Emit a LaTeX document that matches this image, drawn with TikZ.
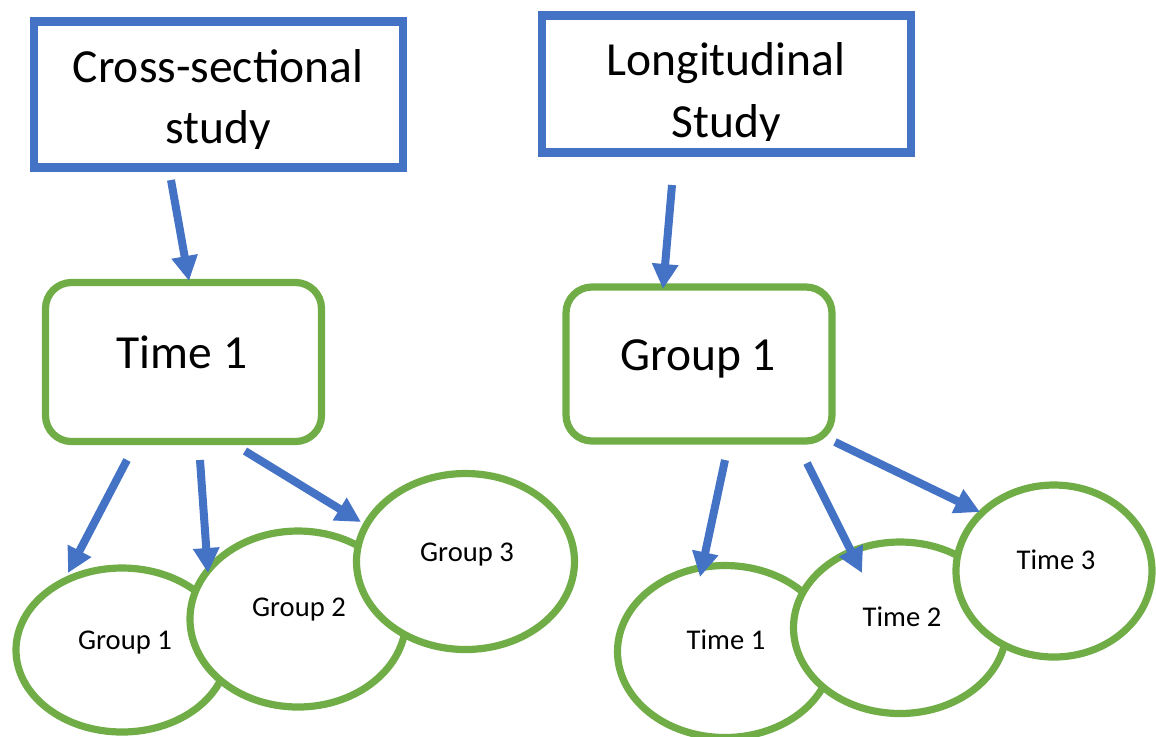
\documentclass[tikz,border=0pt]{standalone}
\usepackage{fontspec}
\setmainfont{Carlito}
\usetikzlibrary{arrows.meta,shapes.geometric}
\definecolor{studyblue}{HTML}{4472C4}
\definecolor{stagegreen}{HTML}{70AD47}
\begin{document}
\begin{tikzpicture}[x=0.5pt,y=-0.5pt,
  studybox/.style={draw=studyblue,line width=4.25pt,minimum width=184.5pt,outer sep=0pt,inner sep=0pt},
  stagebox/.style={draw=stagegreen,line width=3.6pt,rounded corners=13pt,outer sep=0pt,inner sep=0pt},
  wave/.style={ellipse,draw=stagegreen,line width=3.6pt,fill=white,outer sep=0pt,inner sep=0pt},
  bigtext/.style={font=\fontsize{23.75}{30}\selectfont,anchor=base,inner sep=0pt},
  smalltext/.style={font=\fontsize{14.3}{17}\selectfont,anchor=base,inner sep=0pt},
  link/.style={draw=studyblue,line width=4pt,-{Triangle[length=12.5pt,width=12.5pt]}},
]
\clip (0,0) rectangle (1156,736);

% study boxes
\node[studybox,minimum height=73pt] (cs) at (218.5,94.5) {};
\node[studybox,minimum height=68.5pt] (lg) at (726.5,84) {};
\begin{scope}
  \clip ([shift={(4,4)}]cs.north west) rectangle ([shift={(-4,-19.5)}]cs.south east);
  \node[bigtext] (cstxt) at ([shift={(-0.5,-12.5)}]cs.center) {Cross-sectional};
  \node[bigtext] (cstxtb) at ([shift={(-0.5,48.5)}]cs.center) {study};
\end{scope}
\begin{scope}
  \clip ([shift={(4,4)}]lg.north west) rectangle ([shift={(-4,-12.5)}]lg.south east);
  \node[bigtext] (lgtxt) at ([shift={(-0.5,-9)}]lg.center) {Longitudinal};
  \node[bigtext] (lgtxtb) at ([shift={(-0.5,53)}]lg.center) {Study};
\end{scope}

% second level
\node[stagebox,minimum width=138pt,minimum height=79.5pt] (tb) at (183.5,362) {};
\node[bigtext] (tbtxt) at ([shift={(-1.5,6)}]tb.center) {Time 1};
\node[stagebox,minimum width=133pt,minimum height=77pt] (gb) at (699,364) {};
\node[bigtext] (gbtxt) at ([shift={(-1,6)}]gb.center) {Group 1};

% groups (cross-sectional)
\node[wave,minimum width=106pt,minimum height=82pt] (g1) at (122,650) {};
\node[smalltext] (g1txt) at ([shift={(3,-1)}]g1.center) {Group 1};
\node[wave,minimum width=108pt,minimum height=88pt] (g2) at (298,619) {};
\node[smalltext] (g2txt) at ([shift={(1,-3)}]g2.center) {Group 2};
\node[wave,minimum width=109pt,minimum height=88pt] (g3) at (465.5,561.5) {};
\node[smalltext] (g3txt) at ([shift={(1.5,-0.5)}]g3.center) {Group 3};

% times (longitudinal)
\node[wave,minimum width=107.5pt,minimum height=86pt] (t1) at (725,651.5) {};
\node[smalltext] (t1txt) at ([shift={(1,-2.5)}]t1.center) {Time 1};
\node[wave,minimum width=106.5pt,minimum height=85.75pt] (t2) at (900,627.75) {};
\node[smalltext] (t2txt) at ([shift={(2,-1.75)}]t2.center) {Time 2};
\node[wave,minimum width=98pt,minimum height=86pt] (t3) at (1054,571) {};
\node[smalltext] (t3txt) at ([shift={(2,-2)}]t3.center) {Time 3};

% connectors
\draw[link] ([shift={(-47.5,12.5)}]cs.south) -- ([shift={(5.5,-1.5)}]tb.north);
\draw[link] ([shift={(-56.5,18.5)}]tb.south) -- ([shift={(-54,-77)}]g1.center);
\draw[link] ([shift={(16.5,18.5)}]tb.south) -- ([shift={(-90,-46)}]g2.center);
\draw[link] ([shift={(61.5,9.5)}]tb.south) -- ([shift={(-104.5,-39.5)}]g3.center);

\draw[link] ([shift={(-54.5,32.5)}]lg.south) -- ([shift={(-36,2)}]gb.north);
\draw[link] ([shift={(26,19)}]gb.south) -- ([shift={(-25,-74.5)}]t1.center);
\draw[link] ([shift={(108,22)}]gb.south) -- ([shift={(-38,-54.75)}]t2.center);
\draw[link] ([shift={(136,1)}]gb.south) -- ([shift={(-74,-59)}]t3.center);
\end{tikzpicture}
\end{document}
